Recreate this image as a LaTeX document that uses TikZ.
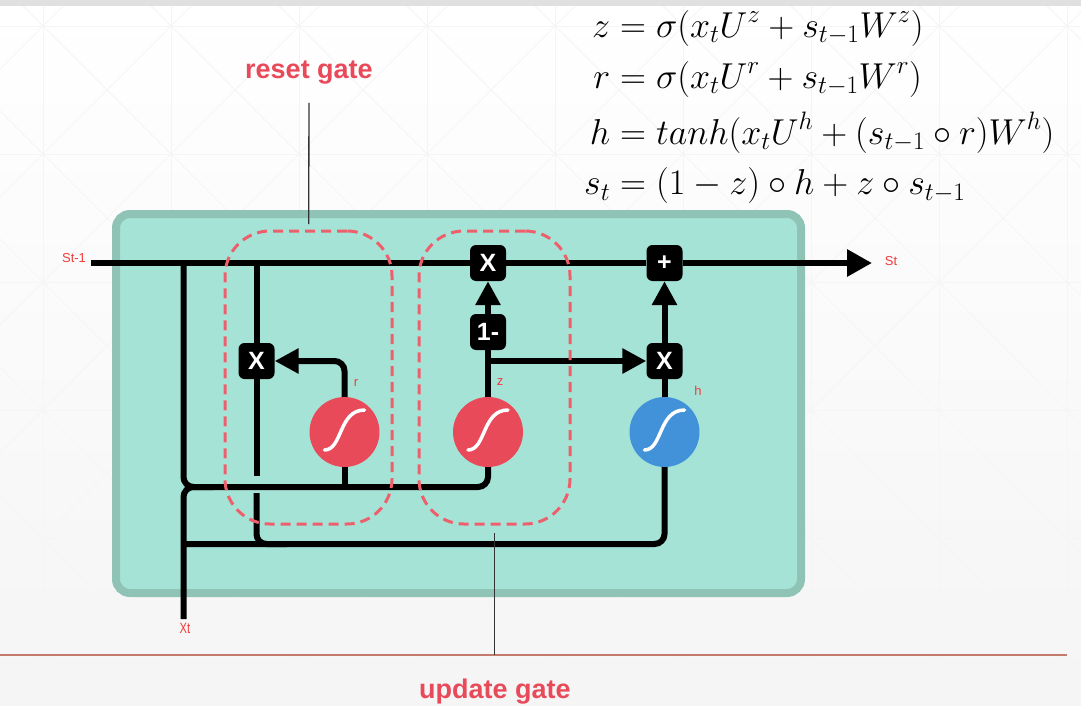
\documentclass[tikz,border=0pt]{standalone}
\usepackage{fix-cm}
\usepackage{amsmath}
\usepackage{fontspec}
\setmainfont{Liberation Sans}
\newfontfamily\narrowsans[FakeStretch=0.75]{Liberation Sans}
\usetikzlibrary{arrows.meta}
\definecolor{cellfill}{HTML}{A6E3D7}
\definecolor{cellrim}{HTML}{8FC3B5}
\definecolor{gatered}{HTML}{E84A5A}
\definecolor{tanhblue}{HTML}{4192D9}
\definecolor{dashred}{HTML}{EE5F6C}
\definecolor{labelred}{HTML}{F23B3B}
\definecolor{rulebrown}{HTML}{C47B6E}
\newcommand\OpBox[4]{%
    \node[opbox] (#1) at (#2,#3) {#4};
}
\newcommand\SigmoidGate[4]{%
    \node[sigbox,fill=#4] (#1) at (#2,#3) {};
    \draw[sigcurve,shift={(#1.center)}] (-20,18) .. controls (-2,18) and (-6,-22) .. (20,-22);
}

\begin{document}
\begin{tikzpicture}[x=1pt,y=-1pt,
    wire/.style={line width=6pt,black},
    tip/.style={-{Triangle[length=24pt,width=24pt]}},
    opbox/.style={fill=black,text=white,rounded corners=6pt,minimum size=36pt,inner sep=0pt,
        font=\bfseries\fontsize{25}{25}\selectfont},
    sigbox/.style={circle,minimum size=70pt,inner sep=0pt},
    sigcurve/.style={white,line width=3.5pt,line cap=round},
    gatebox/.style={draw=dashred,line width=3pt,dash pattern=on 10pt off 6pt,rounded corners=45pt},
    pointer/.style={line width=1.3pt,black!80},
    gatelabel/.style={text=gatered,inner sep=0pt,font=\bfseries\fontsize{27}{27}\selectfont},
    varlabel/.style={text=labelred,inner sep=0pt,font=\fontsize{13}{13}\selectfont},
    backline/.style={black!4,line width=0.8pt}]
    \useasboundingbox (0,0) rectangle (1081,706);
    % backdrop
    \shade[top color=white,bottom color=black!4] (0,0) rectangle (1081,706);
    \begin{scope}
        \clip (0,0) rectangle (1081,706);
        \foreach \i in {-1,...,8} {
            \draw[backline] (43+128*\i,0) -- ++(0,706);
            \draw[backline] (0,26+128*\i) -- ++(1081,0);
        }
        \foreach \i in {-6,...,9} {
            \draw[backline] (17+128*\i,0) -- ++(800,800);
            \draw[backline] (69+128*\i,0) -- ++(-800,800);
        }
    \end{scope}
    \fill[black!12] (0,0) rectangle (1081,6);
    % cell
    \draw[cellrim,fill=cellfill,line width=8pt,rounded corners=14pt] (116,214) rectangle (801,593);
    % operations
    \OpBox{rMul}{256.5}{361}{X}
    \OpBox{zMul}{488}{263}{X}
    \OpBox{zOne}{488}{332}{1-}
    \OpBox{hMul}{664.5}{361}{X}
    \OpBox{hAdd}{664.5}{263}{+}
    \SigmoidGate{rSig}{344.5}{432}{gatered}
    \SigmoidGate{zSig}{488}{432}{gatered}
    \SigmoidGate{hSig}{664.5}{432}{tanhblue}
    \coordinate (StateIn) at (91,263);
    \coordinate (StateOut) at (872,263);
    \coordinate (InputIn) at (183.5,619);
    \coordinate (TapLeft) at (183.5,263);
    \coordinate (JoinLeft) at (183.5,487);
    \coordinate (BranchLow) at (183.5,544);
    \coordinate (TapReset) at (256.5,263);
    \coordinate (GapTop) at (256.5,476);
    \coordinate (GapBot) at (256.5,493);
    \coordinate (zTap) at (488,361);
    % state line
    \draw[wire] (StateIn) -- (zMul);
    \draw[wire] (zMul) -- (hAdd);
    \draw[wire,-{Triangle[length=25pt,width=26pt]}] (hAdd) -- (StateOut);
    % inputs
    \draw[wire,rounded corners=10pt] (TapLeft) -- (JoinLeft) -- (zSig.south |- JoinLeft) -- (zSig.south);
    \draw[wire,rounded corners=10pt] (InputIn) -- (JoinLeft) -- ++(30,0);
    \draw[wire,rounded corners=10pt] (BranchLow) -- (hSig.south |- BranchLow) -- (hSig.south);
    \draw[wire] (rSig) -- (rSig |- JoinLeft);
    % reset path
    \draw[wire] (TapReset) -- (rMul);
    \draw[wire] (rMul) -- (GapTop);
    \draw[wire,rounded corners=10pt] (GapBot) -- (GapBot |- BranchLow) -- ++(30,0);
    \draw[wire,tip,rounded corners=10pt] (rSig) |- (rMul);
    % update path
    \draw[wire] (zSig) -- (zOne);
    \draw[wire,tip] (zOne) -- (zMul);
    \draw[wire,tip] (zTap) -- (hMul);
    \draw[wire] (hSig) -- (hMul);
    \draw[wire,tip] (hMul) -- (hAdd);
    % gates
    \node[gatebox,minimum width=167pt,minimum height=293pt] (ResetGate) at (308.5,377.5) {};
    \node[gatebox,minimum width=151pt,minimum height=293pt] (UpdateGate) at (494.5,377.5) {};
    \node[gatelabel] (ResetLabel) at (309,73) {reset gate};
    \draw[pointer,shorten <=18pt,shorten >=5.5pt] (ResetLabel) -- (ResetGate);
    \coordinate (RuleStart) at (0,655);
    \coordinate (RuleEnd) at (1067,655);
    \coordinate (UpdateRule) at (494.5,655);
    \draw[rulebrown,line width=2.5pt] (RuleStart) -- (RuleEnd);
    \draw[pointer,shorten <=7.5pt] (UpdateGate) -- (UpdateRule);
    \node[gatelabel] (UpdateLabel) at (495,692) {update gate};
    % variable labels
    \node[varlabel] (StateInLabel) at (74,258) {St-1};
    \node[varlabel] (StateOutLabel) at (891,261) {St};
    \node[varlabel] (rLabel) at (356,383) {r};
    \node[varlabel] (zLabel) at (500,382) {z};
    \node[varlabel] (hLabel) at (698,391) {h};
    \node[varlabel,font=\narrowsans\fontsize{15}{15}\selectfont] (InputLabel) at (185,628) {Xt};
    % equations
    \node[anchor=west,inner sep=0pt] (Equations) at (584,108)
        {\fontsize{36}{36}\selectfont\setlength{\jot}{12pt}$\begin{aligned}
        z &= \sigma(x_tU^z + s_{t-1}W^z)\\
        r &= \sigma(x_tU^r + s_{t-1}W^r)\\
        h &= tanh(x_tU^h + (s_{t-1}\circ r)W^h)\\
        s_t &= (1-z)\circ h + z\circ s_{t-1}
        \end{aligned}$};
\end{tikzpicture}
\end{document}
